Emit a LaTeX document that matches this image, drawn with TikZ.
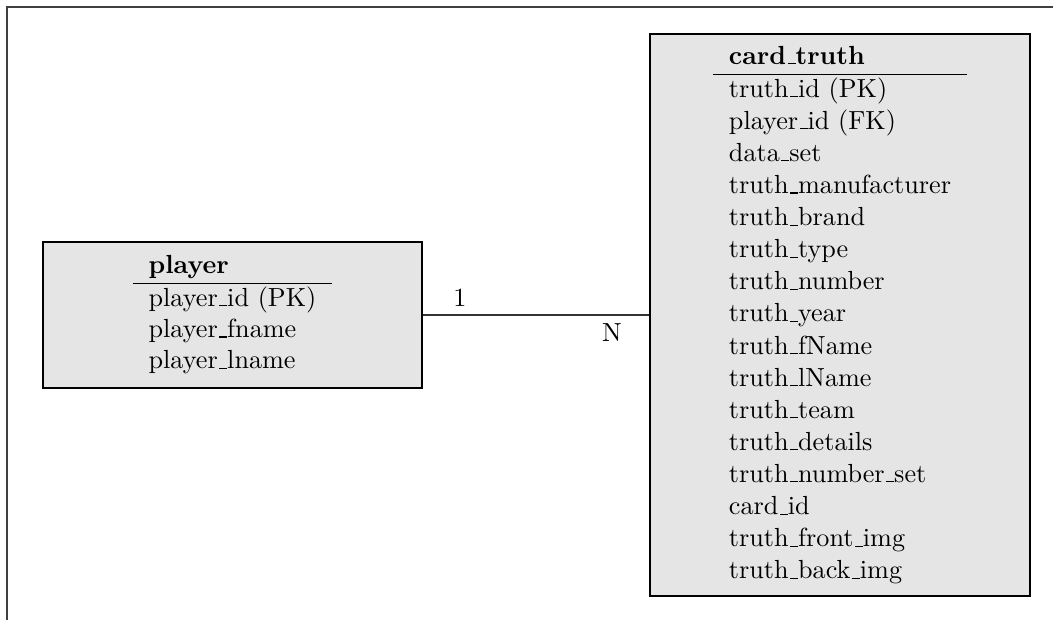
\documentclass[tikz,border=0pt]{standalone}
\newcommand\usc{\leavevmode\kern.06em\vbox{\hrule width.3em}}
\begin{document}
\begin{tikzpicture}[x=0.382pt,y=-0.382pt,
  entity/.style={draw,thick,fill=gray!20,minimum width=145pt,inner sep=0pt,align=left},
  card/.style={font=\normalsize}]
\useasboundingbox (0,0) rectangle (1053,620);
\draw[line width=0.8pt,black!75] (7,620) -- (7,7) -- (1053,7);
\node[entity,minimum height=56pt] (player) at (232.5,315) {\begin{tabular}{l}\textbf{player}\\\hline
player\usc id (PK)\\
player\usc fname\\
player\usc lname
\end{tabular}};
\node[entity,minimum height=215pt] (truth) at (840,315) {\renewcommand\arraystretch{1.022}\begin{tabular}{l}\textbf{card\usc truth}\\\hline
truth\usc id (PK)\\
player\usc id (FK)\\
data\usc set\\
truth\usc manufacturer\\
truth\usc brand\\
truth\usc type\\
truth\usc number\\
truth\usc year\\
truth\usc fName\\
truth\usc lName\\
truth\usc team\\
truth\usc details\\
truth\usc number\usc set\\
card\usc id\\
truth\usc front\usc img\\
truth\usc back\usc img
\end{tabular}};
\draw[black!80] (player.east) -- (truth.west);
\node[card] (one) at (460,298) {1};
\node[card] (many) at (612,333) {N};
\end{tikzpicture}
\end{document}
